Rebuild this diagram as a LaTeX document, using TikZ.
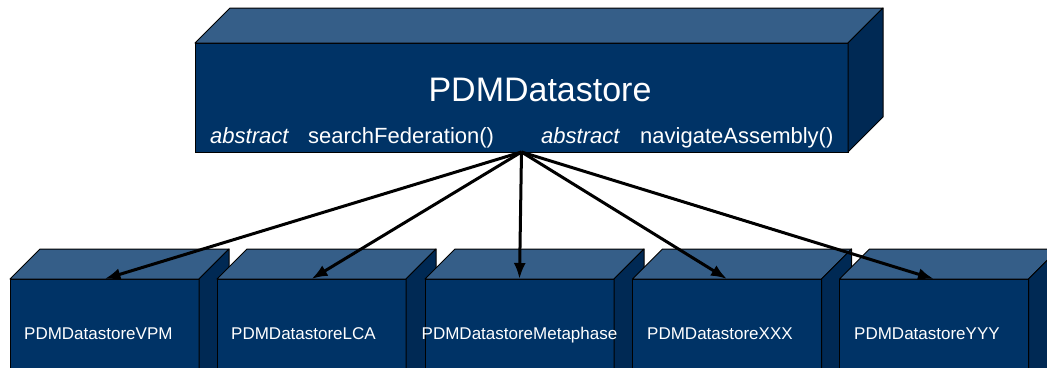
\documentclass[tikz,border=0pt]{standalone}
\usepackage{fontspec}
\setmainfont{Liberation Sans}
\usetikzlibrary{arrows.meta,calc}

\definecolor{frontblue}{RGB}{0,51,102}
\definecolor{topblue}{RGB}{53,94,136}
\definecolor{sideblue}{RGB}{0,41,84}

\tikzset{
  front/.style={draw=black, line width=1pt, fill=frontblue, inner sep=0pt, outer sep=0pt},
  topface/.style={draw=black, line width=1pt, fill=topblue, line join=round},
  sideface/.style={draw=black, line width=1pt, fill=sideblue, line join=round},
  boxlabel/.style={text=white, inner sep=0pt, font=\fontsize{17}{20}\selectfont},
  method/.style={text=white, inner sep=0pt, anchor=base west, font=\fontsize{22}{26}\selectfont},
  inherit/.style={line width=3pt, -{Latex[length=16pt,width=12pt]}}
}

% top and right faces of a box, from its front node
\newcommand\cubefaces[2]{%
  \draw[topface] (#1.north west) -- ++(#2,-#2) -- ($(#1.north east)+(#2,-#2)$) -- (#1.north east) -- cycle;
  \draw[sideface] (#1.north east) -- ++(#2,-#2) -- ($(#1.south east)+(#2,-#2)$) -- (#1.south east) -- cycle;
}

\begin{document}
\begin{tikzpicture}[x=1pt, y=-1pt]
  \useasboundingbox (0,0) rectangle (1047,367);
  \clip (0,0) rectangle (1047,367);

  % Base class
  \node[front, minimum width=653pt, minimum height=109pt] (store) at (521.5,97.5) {};
  \cubefaces{store}{35}
  \node[text=white, inner sep=0pt, anchor=base, font=\fontsize{34}{40}\selectfont] (title) at (540,101) {PDMDatastore};
  \node[method] (abs1) at (210,143) {\itshape abstract};
  \node[method] (search) at (308,143) {searchFederation()};
  \node[method] (abs2) at (541,143) {\itshape abstract};
  \node[method] (navigate) at (640,143) {navigateAssembly()};

  % Subclasses
  \node[front, minimum width=189pt, minimum height=111pt] (vpm) at (104.5,334.5) {};
  \cubefaces{vpm}{30}
  \node[front, minimum width=189pt, minimum height=111pt] (lca) at (311.5,334.5) {};
  \cubefaces{lca}{30}
  \node[front, minimum width=189pt, minimum height=111pt] (meta) at (519.5,334.5) {};
  \cubefaces{meta}{30}
  \node[front, minimum width=189pt, minimum height=111pt] (xxx) at (727,334.5) {};
  \cubefaces{xxx}{30}
  \node[front, minimum width=189pt, minimum height=111pt] (yyy) at (934,334.5) {};
  \cubefaces{yyy}{30}

  \node[boxlabel, anchor=base west] (vpmlabel) at (24,339) {PDMDatastoreVPM};
  \node[boxlabel, anchor=base west] (lcalabel) at (231,339) {PDMDatastoreLCA};
  \node[boxlabel, anchor=base] (metalabel) at (519.5,339) {PDMDatastoreMetaphase};
  \node[boxlabel, anchor=base west] (xxxlabel) at (647,339) {PDMDatastoreXXX};
  \node[boxlabel, anchor=base west] (yyylabel) at (854,339) {PDMDatastoreYYY};

  % Edges
  \draw[inherit] (store.south) -- (vpm.north);
  \draw[inherit] (store.south) -- (lca.north);
  \draw[inherit] (store.south) -- (meta.north);
  \draw[inherit] (store.south) -- (xxx.north);
  \draw[inherit] (store.south) -- (yyy.north);
\end{tikzpicture}
\end{document}
